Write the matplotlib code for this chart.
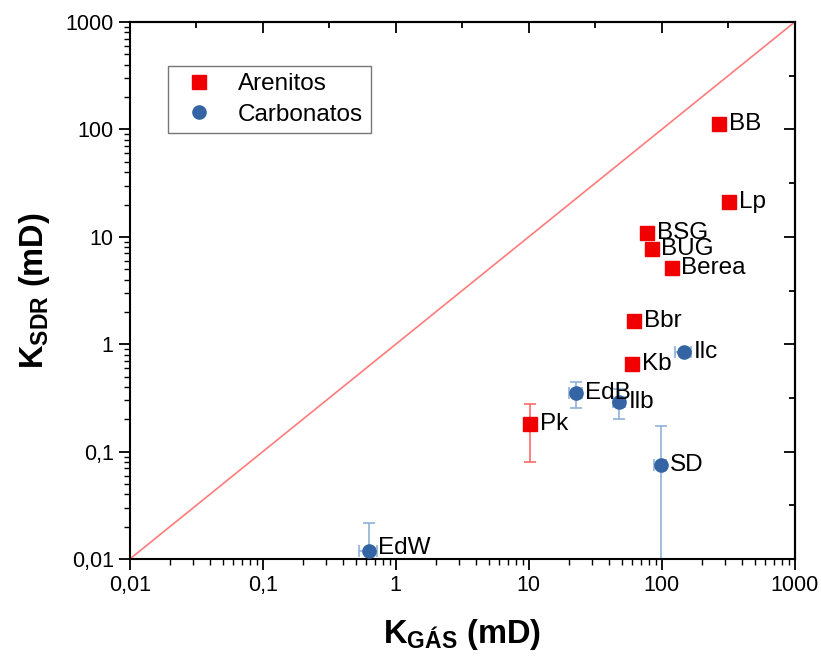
import matplotlib
matplotlib.use("Agg")
import matplotlib.pyplot as plt
from matplotlib.ticker import LogLocator, FixedLocator, NullFormatter

plt.rcParams['font.family'] = ['Liberation Sans', 'DejaVu Sans']
plt.rcParams['mathtext.fontset'] = 'custom'
plt.rcParams['mathtext.rm'] = 'Liberation Sans'
plt.rcParams['mathtext.bf'] = 'Liberation Sans:bold'
plt.rcParams['mathtext.it'] = 'Liberation Sans:italic'

# Sandstones (Arenitos)
are_names = ["BB", "Lp", "BSG", "BUG", "Berea", "Bbr", "Kb", "Pk"]
are_kgas = [270, 320, 78, 84, 119, 62, 60, 10.3]
are_ksdr = [112, 21, 10.8, 7.7, 5.1, 1.65, 0.65, 0.18]
are_xerr = [25, 30, 7, 0, 10, 0, 6, 0]
are_yerr = [0, 0, 0, 0, 0, 0, 0.08, 0.10]

# Carbonates (Carbonatos)
carb_names = ["Ilc", "EdB", "Ilb", "SD", "EdW"]
carb_kgas = [146, 22.5, 48, 98, 0.627]
carb_ksdr = [0.85, 0.35, 0.29, 0.075, 0.0119]
carb_xerr = [20, 2.5, 5, 10, 0.1]
carb_yerr = [0, 0.095, 0.09, 0.1, 0.01]

tick_vals = [0.01, 0.1, 1, 10, 100, 1000]
tick_labels = ["0,01", "0,1", "1", "10", "100", "1000"]
half_decades = [10 ** (k + 0.5) for k in range(-2, 3)]

red = "#f00000"
blue = "#3464a4"

fig = plt.figure(figsize=(8.21, 6.57), dpi=100)
ax = fig.add_axes([0.158, 0.149, 0.81, 0.8175])

ax.set_xscale("log")
ax.set_yscale("log")
ax.set_xlim(0.01, 1000)
ax.set_ylim(0.01, 1000)

# 1:1 reference line
ax.plot([0.01, 1000], [0.01, 1000], color="#ff7b7b", lw=1.2, zorder=1)

def with_err(vals, errs):
    lo = [min(e, v * 0.999) for v, e in zip(vals, errs)]
    return [lo, errs]

ax.errorbar(are_kgas, are_ksdr, xerr=are_xerr, yerr=are_yerr, fmt="none",
            ecolor="#ff6a6a", elinewidth=1.2, capsize=4, capthick=1.2, zorder=2)
ax.errorbar(carb_kgas, carb_ksdr, xerr=carb_xerr,
            yerr=with_err(carb_ksdr, carb_yerr), fmt="none",
            ecolor="#8fb0da", elinewidth=1.2, capsize=4, capthick=1.2, zorder=2)

ax.plot(are_kgas, are_ksdr, "s", color=red, ms=9.5, mec=red, ls="none",
        label="Arenitos", zorder=3)
ax.plot(carb_kgas, carb_ksdr, "o", color=blue, ms=9.5, mec=blue, ls="none",
        label="Carbonatos", zorder=3)

for n, x, y in zip(are_names, are_kgas, are_ksdr):
    ax.annotate(n, (x, y), xytext=(7, 0), textcoords="offset points",
                ha="left", va="center", fontsize=17.5, zorder=4)
for n, x, y in zip(carb_names, carb_kgas, carb_ksdr):
    dy = 2 if n == "EdW" else 0
    ax.annotate(n, (x, y), xytext=(7, dy), textcoords="offset points",
                ha="left", va="center", fontsize=17.5, zorder=4)

ax.xaxis.set_major_locator(FixedLocator(tick_vals))
ax.yaxis.set_major_locator(FixedLocator(tick_vals))
ax.set_xticklabels(tick_labels)
ax.set_yticklabels(tick_labels)
ax.xaxis.set_minor_locator(LogLocator(base=10, subs=range(2, 10), numticks=20))
ax.yaxis.set_minor_locator(LogLocator(base=10, subs=range(2, 10), numticks=20))
ax.xaxis.set_minor_formatter(NullFormatter())
ax.yaxis.set_minor_formatter(NullFormatter())

ax.tick_params(which="major", direction="out", length=8, width=1.3,
               labelsize=15.5)
ax.tick_params(which="minor", direction="out", length=4, width=1.0)
for s in ax.spines.values():
    s.set_linewidth(1.5)

# Top and right axes: inward ticks at decades and half decades
top = ax.secondary_xaxis("top")
right = ax.secondary_yaxis("right")
for sec, axis in ((top, top.xaxis), (right, right.yaxis)):
    axis.set_major_locator(FixedLocator(tick_vals))
    axis.set_minor_locator(FixedLocator(half_decades))
    axis.set_major_formatter(NullFormatter())
    axis.set_minor_formatter(NullFormatter())
    sec.tick_params(which="major", direction="in", length=8, width=1.3)
    sec.tick_params(which="minor", direction="in", length=4, width=1.3)
    for s in sec.spines.values():
        s.set_linewidth(1.5)

ax.set_xlabel(r"$\mathbf{K_{GÁS}}$ (mD)", fontsize=23.5, fontweight="bold",
              labelpad=15)
ax.set_ylabel(r"$\mathbf{K_{SDR}}$ (mD)", fontsize=23.5, fontweight="bold",
              labelpad=10)

leg = ax.legend(loc="upper left", bbox_to_anchor=(0.057, 0.918), fontsize=17.5,
                frameon=True, fancybox=False, edgecolor="#555555",
                handletextpad=0.6, borderpad=0.3, labelspacing=0.35,
                handlelength=2.0, borderaxespad=0, markerscale=1.0)
leg.get_frame().set_linewidth(1.0)

fig.savefig("out.png", dpi=100, facecolor="white")
